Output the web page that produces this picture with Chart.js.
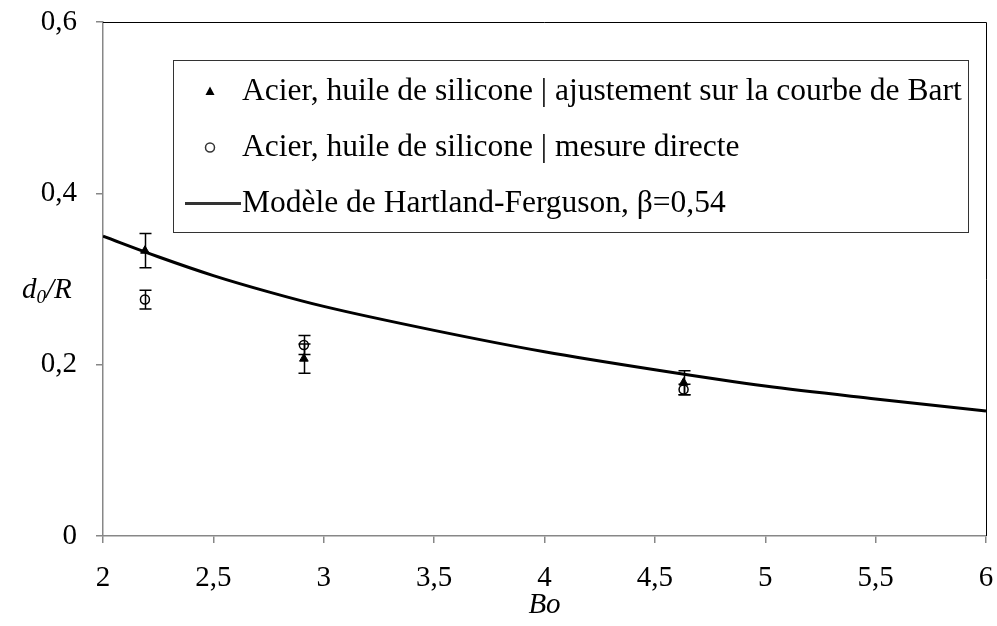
<!DOCTYPE html>
<html>
<head>
<meta charset="utf-8">
<script src="https://cdn.jsdelivr.net/npm/chart.js@4.4.0/dist/chart.umd.min.js"></script>
<style>
	html, body { margin: 0; padding: 0; background: #fff; }
	#wrap { width: 997px; height: 626px; }
</style>
</head>
<body>
<div id="wrap"><canvas id="chart"></canvas></div>
<script>
let serif = '"Liberation Serif", "Times New Roman", serif';

// measured points (Bo, d0/R)
let bo = [2.19, 2.91, 4.63];
let bartFit = [0.333, 0.207, 0.179];
let bartErr = [0.020, 0.017, 0.014];
let direct = [0.276, 0.223, 0.171];
let directErr = [0.011, 0.011, 0.006];

// Hartland-Ferguson model curve, beta = 0.54
let modelBo = [2, 2.25, 2.5, 2.75, 3, 3.5, 4, 4.5, 5, 5.5, 6];
let modelD = [0.350, 0.326, 0.304, 0.285, 0.268, 0.240, 0.215, 0.194, 0.175, 0.160, 0.146];

let labels = [
	'Acier, huile de silicone | ajustement sur la courbe de Bart',
	'Acier, huile de silicone | mesure directe',
	'Modèle de Hartland-Ferguson, β=0,54'
];

function points(xs, ys) {
	return xs.map((x, i) => { return {'x': x, 'y': ys[i]}; });
}

let errorBars = {
	id: 'errorBars',
	afterDatasetsDraw(chart) {
		let ctx = chart.ctx;
		let xs = chart.scales.x, ys = chart.scales.y;
		ctx.save();
		ctx.strokeStyle = '#000';
		ctx.lineWidth = 1.5;
		[[bartFit, bartErr], [direct, directErr]].forEach(([vals, errs]) => {
			vals.forEach((v, i) => {
				let px = Math.round(xs.getPixelForValue(bo[i])) + 0.5;
				let top = ys.getPixelForValue(v + errs[i]);
				let bot = ys.getPixelForValue(v - errs[i]);
				ctx.beginPath();
				ctx.moveTo(px, top); ctx.lineTo(px, bot);
				ctx.moveTo(px - 6, top); ctx.lineTo(px + 6, top);
				ctx.moveTo(px - 6, bot); ctx.lineTo(px + 6, bot);
				ctx.stroke();
			});
		});
		ctx.restore();
	}
};

let frame = {
	id: 'frame',
	afterDraw(chart) {
		let ctx = chart.ctx, a = chart.chartArea;
		ctx.save();
		// top and right edges of the plot
		ctx.strokeStyle = '#000';
		ctx.lineWidth = 1;
		ctx.beginPath();
		ctx.moveTo(a.left, a.top + 0.5); ctx.lineTo(a.right + 0.5, a.top + 0.5);
		ctx.lineTo(a.right + 0.5, a.bottom);
		ctx.stroke();

		// legend box
		let bx = a.left + 70.5, by = a.top + 38.5, bw = 795, bh = 172;
		ctx.fillStyle = '#fff';
		ctx.fillRect(bx, by, bw, bh);
		ctx.strokeStyle = '#333';
		ctx.strokeRect(bx, by, bw, bh);
		ctx.font = '31.5px ' + serif;
		ctx.fillStyle = '#000';
		ctx.textBaseline = 'middle';
		let rows = [by + 31, by + 87, by + 143];
		labels.forEach((t, i) => ctx.fillText(t, a.left + 139, rows[i]));
		// markers
		let mx = a.left + 107;
		ctx.beginPath();
		ctx.moveTo(mx, rows[0] - 5); ctx.lineTo(mx + 4.5, rows[0] + 3.5); ctx.lineTo(mx - 4.5, rows[0] + 3.5);
		ctx.closePath(); ctx.fill();
		ctx.lineWidth = 1.5;
		ctx.beginPath();
		ctx.arc(mx, rows[1], 4.5, 0, Math.PI * 2);
		ctx.stroke();
		ctx.lineWidth = 3;
		ctx.beginPath();
		ctx.moveTo(a.left + 82, rows[2]); ctx.lineTo(a.left + 138, rows[2]);
		ctx.stroke();

		// y axis title with subscript
		let ty = (a.top + a.bottom) / 2 + 19;
		ctx.font = 'italic 29px ' + serif;
		ctx.textBaseline = 'alphabetic';
		let x0 = 22;
		ctx.fillText('d', x0, ty);
		x0 += ctx.measureText('d').width;
		ctx.font = 'italic 19px ' + serif;
		ctx.fillText('0', x0, ty + 5);
		x0 += ctx.measureText('0').width;
		ctx.font = 'italic 29px ' + serif;
		ctx.fillText('/R', x0, ty);
		ctx.restore();
	}
};

let axisStyle = {
	border: { color: '#878787', width: 1.5 },
	grid: { drawOnChartArea: false, drawTicks: true, tickLength: 7, color: '#878787', lineWidth: 1.5 },
};

new Chart(document.querySelector('#chart'), {
	type: 'scatter',
	data: {
		datasets: [
			{
				label: labels[0],
				data: points(bo, bartFit),
				pointStyle: 'triangle',
				radius: 5,
				backgroundColor: '#000',
				borderColor: '#000',
				borderWidth: 1,
				order: 1
			},
			{
				label: labels[1],
				data: points(bo, direct),
				pointStyle: 'circle',
				radius: 4.5,
				backgroundColor: 'rgba(0,0,0,0)',
				borderColor: '#000',
				borderWidth: 1.5,
				order: 2
			},
			{
				label: labels[2],
				type: 'line',
				data: points(modelBo, modelD),
				showLine: true,
				borderColor: '#000',
				borderWidth: 3,
				pointRadius: 0,
				cubicInterpolationMode: 'monotone',
				order: 3
			}
		]
	},
	options: {
		responsive: true,
		maintainAspectRatio: false,
		animation: false,
		layout: { padding: { top: 22, right: 11, left: 0, bottom: 0 } },
		plugins: {
			legend: { display: false },
			tooltip: { enabled: false }
		},
		scales: {
			x: Object.assign({
				type: 'linear',
				min: 2, max: 6,
				ticks: {
					stepSize: 0.5,
					padding: 18,
					color: '#000',
					font: { family: serif, size: 29 },
					callback: v => String(v).replace('.', ',')
				},
				title: {
					display: true,
					text: 'Bo',
					color: '#000',
					padding: { top: 0, bottom: 3 },
					font: { family: serif, size: 29, style: 'italic' }
				},
				afterFit: s => { s.height = 90; s.paddingLeft = 0; s.paddingRight = 0; }
			}, axisStyle),
			y: Object.assign({
				min: 0, max: 0.6,
				ticks: {
					stepSize: 0.2,
					padding: 19,
					color: '#000',
					font: { family: serif, size: 29 },
					callback: v => String(Math.round(v * 10) / 10).replace('.', ',')
				},
				afterFit: s => { s.width = 103; s.paddingTop = 0; s.paddingBottom = 0; }
			}, axisStyle)
		}
	},
	plugins: [errorBars, frame]
});
</script>
</body>
</html>
